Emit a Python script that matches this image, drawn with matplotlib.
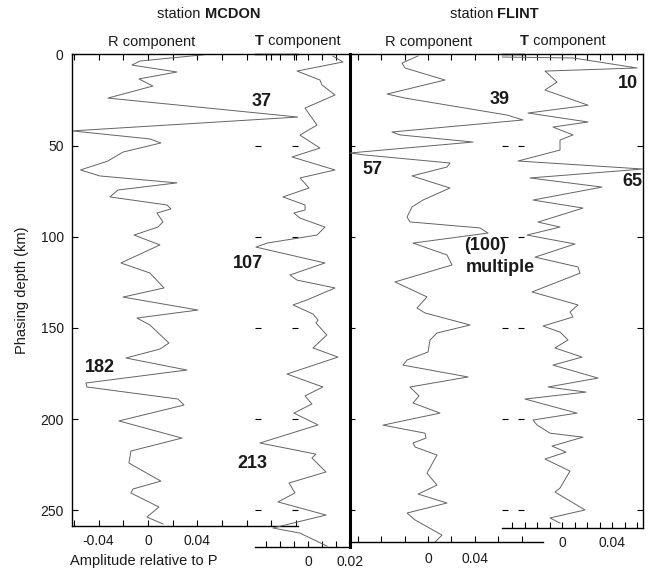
import matplotlib
matplotlib.use('Agg')
import matplotlib.pyplot as plt

plt.rcParams['font.family'] = ['Liberation Sans', 'DejaVu Sans']

# ---------------- data (depth in km, amplitude relative to P) ----------------
mcdon_r_depth = [0, 3.7, 5.9, 9.7, 13.5, 17.4, 24.0, 34.4, 42.0, 46.4, 48.6, 53.6, 58.5, 63.4, 66.7,
                 70.5, 74.4, 78.2, 82.6, 84.8, 87.0, 91.9, 94.7, 99.1, 104.5, 114.4, 119.9, 128.1,
                 133.1, 140.2, 144.6, 148.4, 158.3, 161.6, 166.5, 173.1, 180.2, 182.4, 189.0, 192.3,
                 201.0, 210.4, 217.5, 224.1, 234.0, 238.3, 240.5, 248.2, 253.7, 257.5]
mcdon_r_amp = [0.049, -0.0065, -0.013, 0.0235, -0.0073, 0.004, -0.0324, 0.1215, -0.0615, 0.0016,
               0.0105, -0.0202, -0.0324, -0.0546, -0.0389, 0.0235, -0.0243, -0.0308, 0.0154, 0.0186,
               0.0073, 0.0121, 0.0081, -0.0113, 0.0097, -0.0219, 0.0016, 0.013, -0.0202, 0.0405,
               -0.0089, 0.0016, 0.017, 0.0097, -0.0178, 0.0316, -0.0502, -0.0494, 0.0243, 0.0292,
               -0.0235, 0.0275, -0.0138, -0.0154, 0.0105, -0.0121, -0.0138, 0.0089, -0.0008, 0.0121]

mcdon_t_depth = [1.0, 4.2, 9.2, 14.1, 16.8, 22.3, 29.5, 38.8, 44.3, 51.4, 56.3, 63.4, 67.8, 73.3,
                 78.2, 82.6, 85.4, 87.0, 89.8, 94.7, 99.1, 103.5, 105.7, 114.4, 121.0, 123.8, 128.1,
                 134.7, 137.4, 142.4, 145.7, 147.3, 153.9, 161.0, 166.0, 175.3, 182.4, 187.3, 191.7,
                 196.7, 203.2, 213.1, 219.2, 221.3, 229.0, 235.0, 240.5, 245.4, 252.6, 259.7, 262.5,
                 269.6]
mcdon_t_amp = [0.0119, 0.0167, -0.0052, 0.0057, 0.0067, 0.0129, -0.0014, 0.0043, -0.0038, 0.0057,
               -0.0076, 0.0129, -0.0038, 0.0005, -0.0119, -0.0014, -0.0014, -0.0067, -0.0038, 0.0081,
               0.0043, -0.0195, -0.0248, 0.0081, -0.0086, -0.0052, 0.0129, -0.0005, -0.0071, 0.0024,
               0.0048, 0.0038, 0.009, 0.0024, 0.0143, -0.01, 0.0071, -0.0014, 0.0019, -0.0067,
               0.0048, -0.0229, 0.0038, 0.0019, 0.0086, -0.009, -0.0062, -0.0143, 0.0086, -0.0167,
               -0.0038, 0.009]

flint_r_depth = [0.9, 4.8, 7.5, 14.1, 21.8, 24.0, 33.3, 36.0, 42.6, 44.2, 48.1, 54.1, 55.2, 59.6,
                 61.8, 66.7, 73.3, 79.9, 83.7, 89.2, 91.9, 95.2, 98.0, 103.5, 110.0, 115.5, 124.8,
                 133.0, 139.1, 141.8, 148.4, 152.8, 156.6, 163.2, 167.6, 170.4, 176.9, 182.4, 187.3,
                 191.2, 196.7, 203.3, 207.7, 210.4, 213.1, 215.3, 219.7, 229.6, 236.2, 241.1, 246.0,
                 251.5, 255.3, 263.6, 267.4]
flint_r_amp = [-0.0085, -0.0222, -0.0197, 0.0145, -0.035, -0.0197, 0.0675, 0.0812, -0.0308, -0.0239,
               0.0385, -0.0667, -0.054, 0.0188, 0.0162, -0.0137, 0.0188, -0.0043, -0.0137, -0.0179,
               -0.0154, 0.0444, 0.0513, -0.0128, 0.0162, 0.0205, -0.0282, -0.0009, -0.0094, -0.0026,
               0.0359, 0.0077, 0.0017, 0.0, -0.0179, -0.0214, 0.0342, -0.0154, -0.0077, -0.0128,
               0.0103, -0.0385, -0.0026, -0.0017, -0.0128, -0.0111, 0.0077, -0.0009, 0.0077, -0.0085,
               0.0162, -0.0179, -0.0111, 0.012, 0.006]

flint_t_depth = [1.5, 2.0, 7.5, 9.2, 15.2, 19.6, 27.9, 32.2, 37.1, 39.9, 44.2, 47.0, 52.5, 58.5,
                 62.9, 67.8, 72.8, 79.9, 84.3, 92.0, 94.7, 99.1, 104.0, 111.2, 116.6, 120.0, 130.3,
                 137.4, 141.3, 144.0, 149.0, 152.3, 156.6, 161.0, 166.0, 170.4, 177.5, 182.4, 185.2,
                 189.0, 196.7, 200.5, 203.2, 207.7, 209.9, 214.8, 218.1, 221.9, 228.5, 237.8, 240.0,
                 249.8, 254.2, 257.0]
flint_t_amp = [-0.048, 0.0088, 0.06, -0.0136, -0.004, -0.0136, 0.0208, -0.0272, 0.0208, -0.0072,
               0.0088, -0.0016, -0.0016, -0.0352, 0.0648, -0.0256, 0.032, -0.0232, 0.0168, -0.0192,
               -0.0016, -0.028, 0.0104, -0.0216, 0.0128, 0.0144, -0.024, 0.0128, 0.0064, 0.0088,
               -0.0152, -0.0016, 0.0048, -0.0056, 0.016, -0.0072, 0.0288, -0.0112, 0.0192, -0.0296,
               0.012, -0.0232, -0.02, -0.0096, 0.0168, -0.008, 0.0032, -0.0136, 0.0064, -0.0016,
               -0.0056, 0.0184, -0.0096, -0.0016]

depth_ticks = [0, 50, 100, 150, 200, 250]
depth_labels = ['0', '50', '100', '150', '200', '250']

mcdon_r_xticks = [-0.06, -0.04, -0.02, 0, 0.02, 0.04, 0.06, 0.08, 0.10, 0.12]
mcdon_r_xlabels = ['', '-0.04', '', '0', '', '0.04', '', '', '', '']
mcdon_t_xticks = [-0.02, -0.02 * 2 / 3, -0.02 / 3, 0, 0.02 / 3, 0.02 * 2 / 3, 0.02]
mcdon_t_xlabels = ['', '', '', '0', '', '', '0.02']
flint_r_xticks = [-0.06, -0.04, -0.02, 0, 0.02, 0.04, 0.06, 0.08]
flint_r_xlabels = ['', '', '', '0', '', '0.04', '', '']
flint_t_xticks = [-0.04, -0.03, -0.02, -0.01, 0, 0.01, 0.02, 0.03, 0.04, 0.05, 0.06]
flint_t_xlabels = ['', '', '', '', '0', '', '', '', '0.04', '', '']

annotations = [('37', 262, 102), ('107', 248, 263), ('182', 100, 368), ('213', 252, 463),
               ('39', 500, 100), ('10', 628, 84), ('57', 372, 170), ('65', 632, 182),
               ('(100)', 485, 245), ('multiple', 500, 268)]

# ---------------- layout helpers (pixel -> figure fraction) ----------------
W, H = 650, 571
TOP = 54.3
PX_PER_KM = 1.824


def fx(x):
    return x / W


def fy(y):
    return 1 - y / H


def rect(x0, x1, y1):
    return [x0 / W, 1 - y1 / H, (x1 - x0) / W, (y1 - TOP) / H]


def depth_at(ypx):
    return (ypx - TOP) / PX_PER_KM


fig = plt.figure(figsize=(6.5, 5.71), dpi=100)
TRACE = dict(color='#646464', lw=0.7)
TXT = '#1a1a1a'


def setup(ax, xlim, ybottom_px, xticks, xlabels, labelpad):
    ax.set_facecolor('none')
    ax.set_xlim(*xlim)
    ax.set_ylim(depth_at(ybottom_px), 0)
    ax.set_xticks(xticks)
    ax.set_xticklabels(xlabels)
    ax.set_yticks(depth_ticks)
    ax.tick_params(axis='both', direction='in', length=4, width=0.8, labelsize=10,
                   colors='black', labelcolor=TXT)
    ax.tick_params(axis='x', top=True, pad=labelpad)
    for s in ax.spines.values():
        s.set_linewidth(1.0)


# MCDON R
ax1 = fig.add_axes(rect(72, 298, 526))
setup(ax1, (-0.0615, 0.1215), 526, mcdon_r_xticks, mcdon_r_xlabels, 6)
ax1.set_yticklabels(depth_labels)
ax1.tick_params(axis='y', left=True, right=True, pad=6)
ax1.spines['right'].set_visible(False)
ax1.plot(mcdon_r_amp, mcdon_r_depth, **TRACE)

# MCDON T
ax2 = fig.add_axes(rect(255, 349.5, 546.7))
setup(ax2, (-0.02524, 0.0198), 546.7, mcdon_t_xticks[:-1], mcdon_t_xlabels[:-1], 6)
ax2.tick_params(axis='y', left=True, right=False, labelleft=False)
ax2.spines['left'].set_visible(False)
ax2.spines['right'].set_linewidth(2.2)
ax2.annotate(mcdon_t_xlabels[-1], xy=(mcdon_t_xticks[-1], 0), xycoords=('data', 'axes fraction'),
             xytext=(0, -6), textcoords='offset points', ha='center', va='top',
             fontsize=10, color=TXT, annotation_clip=False)
ax2.plot(mcdon_t_amp, mcdon_t_depth, **TRACE)

# FLINT R
ax3 = fig.add_axes(rect(349, 524, 542))
setup(ax3, (-0.0675, 0.082), 542, flint_r_xticks, flint_r_xlabels, 7)
ax3.tick_params(axis='y', left=True, right=True, labelleft=False)
ax3.spines['right'].set_visible(False)
ax3.spines['left'].set_visible(False)
ax3.spines['bottom'].set_bounds(-0.0675, 0.0983)
ax3.plot(flint_r_amp, flint_r_depth, **TRACE)

# FLINT T
ax4 = fig.add_axes(rect(502, 643, 528))
setup(ax4, (-0.048, 0.0648), 528, flint_t_xticks, flint_t_xlabels, 6)
ax4.tick_params(axis='y', left=True, right=True, labelleft=False)
ax4.spines['left'].set_visible(False)
ax4.plot(flint_t_amp, flint_t_depth, **TRACE)

# ---------------- titles and labels ----------------
FS = 10.5
t = fig.text(fx(157), fy(21), 'station ', fontsize=FS, color=TXT, ha='left', va='bottom')
fig.add_artist(plt.matplotlib.text.Annotation('MCDON', xy=(1, 0), xycoords=t, fontsize=FS,
                                              fontweight='bold', color=TXT, ha='left', va='bottom'))
t = fig.text(fx(450), fy(21), 'station ', fontsize=FS, color=TXT, ha='left', va='bottom')
fig.add_artist(plt.matplotlib.text.Annotation('FLINT', xy=(1, 0), xycoords=t, fontsize=FS,
                                              fontweight='bold', color=TXT, ha='left', va='bottom'))

fig.text(fx(152), fy(42), 'R component', fontsize=FS, color=TXT, ha='center', va='center')
fig.text(fx(429), fy(42), 'R component', fontsize=FS, color=TXT, ha='center', va='center')
for x0 in (255, 520):
    t = fig.text(fx(x0), fy(48), 'T', fontsize=FS, fontweight='bold', color=TXT,
                 ha='left', va='bottom')
    fig.add_artist(plt.matplotlib.text.Annotation(' component', xy=(1, 0), xycoords=t,
                                                  fontsize=FS, color=TXT, ha='left', va='bottom'))

fig.text(fx(22), fy(290), 'Phasing depth (km)', fontsize=FS, color=TXT, rotation=90,
         ha='center', va='center')
fig.text(fx(144), fy(561), 'Amplitude relative to P', fontsize=FS, color=TXT,
         ha='center', va='center')

for s, x, y in annotations:
    fig.text(fx(x), fy(y), s, fontsize=13, fontweight='bold', color=TXT,
             ha='center', va='center')

fig.savefig('out.png', dpi=100)
